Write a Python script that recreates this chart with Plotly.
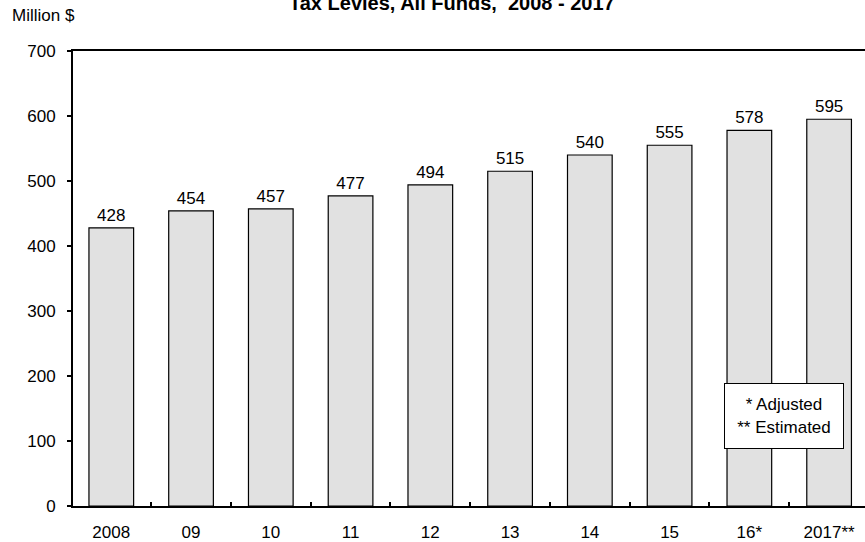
import plotly.graph_objects as go

# Tax levies, all funds, by year (million dollars)
years = ["2008", "09", "10", "11", "12", "13", "14", "15", "16*", "2017**"]
levies = [428, 454, 457, 477, 494, 515, 540, 555, 578, 595]
y_ticks = [0, 100, 200, 300, 400, 500, 600, 700]

FONT = "Liberation Sans, Arial, Helvetica, sans-serif"

fig = go.Figure(
    go.Bar(
        x=years,
        y=levies,
        width=0.56,
        marker=dict(color="#e1e1e1", line=dict(color="black", width=1.2)),
        text=[str(v) for v in levies],
        textposition="outside",
        textfont=dict(family=FONT, size=17, color="black"),
        cliponaxis=False,
        hoverinfo="skip",
    )
)

fig.update_layout(
    width=865,
    height=542,
    margin=dict(l=73, r=0, t=51, b=36),
    paper_bgcolor="white",
    plot_bgcolor="white",
    showlegend=False,
    font=dict(family=FONT, size=17, color="black"),
    xaxis=dict(
        type="category",
        range=[-0.48, 9.45],
        showline=True,
        linecolor="black",
        linewidth=2,
        mirror=True,
        ticks="inside",
        tickson="boundaries",
        ticklen=4,
        tickwidth=1.5,
        tickcolor="black",
        showgrid=False,
        ticklabelstandoff=10,
        tickfont=dict(family=FONT, size=17, color="black"),
    ),
    yaxis=dict(
        range=[0, 700],
        tickvals=y_ticks,
        showline=True,
        linecolor="black",
        linewidth=2,
        ticks="outside",
        ticklen=4,
        tickwidth=1.5,
        tickcolor="black",
        showgrid=False,
        zeroline=False,
        ticklabelstandoff=8,
        tickfont=dict(family=FONT, size=17, color="black"),
    ),
)

# Chart title, set high at the top edge
fig.add_annotation(
    text="<b>Tax Levies, All Funds,  2008 - 2017</b>",
    xref="paper", yref="paper", x=0.4785, y=1,
    xanchor="center", yanchor="middle", yshift=48,
    showarrow=False,
    font=dict(family=FONT, size=20, color="black"),
)

# Unit label above the y axis
fig.add_annotation(
    text="Million $",
    xref="paper", yref="paper", x=-73 / 792 + 10 / 792, y=1,
    xanchor="left", yanchor="middle", yshift=36,
    showarrow=False,
    font=dict(family=FONT, size=17, color="black"),
)

# Footnote key box
fig.add_annotation(
    text="* Adjusted<br>** Estimated",
    xref="paper", yref="y", x=0.8977, y=138,
    xanchor="center", yanchor="middle",
    showarrow=False,
    align="center",
    width=118, height=64,
    bgcolor="white",
    bordercolor="black",
    borderwidth=1,
    borderpad=0,
    font=dict(family=FONT, size=17, color="black"),
)

fig.write_html("out.html")
